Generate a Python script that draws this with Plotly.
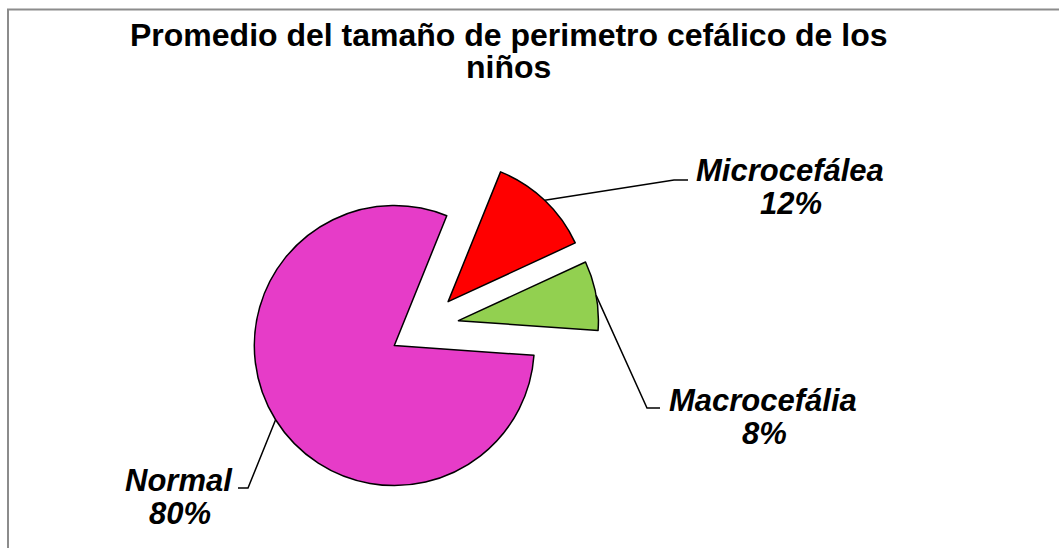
import math
import plotly.graph_objects as go

# Data
categories = ["Microcefálea", "Macrocefália", "Normal"]
percentages = [12, 8, 80]
colors = ["#FF0000", "#92D050", "#E63CC8"]
title_lines = ["Promedio del tamaño de perimetro cefálico de los", "niños"]

# Canvas and pie geometry (pixels)
W, H = 1059, 548
CX, CY = 424, 327          # pie centre
R = 140                    # slice radius
PULL = 0.25                # every slice exploded by a quarter radius
ROTATION = 22              # first slice starts 22 deg clockwise from 12 o'clock

half = R * (1 + PULL)
dom_x = [(CX - half) / W, (CX + half) / W]
dom_y = [1 - (CY + half) / H, 1 - (CY - half) / H]

fig = go.Figure(go.Pie(
    labels=categories,
    values=percentages,
    sort=False,
    direction="clockwise",
    rotation=ROTATION,
    pull=[PULL] * len(percentages),
    marker=dict(colors=colors, line=dict(color="#000000", width=1.5)),
    textinfo="none",
    hoverinfo="label+percent",
    domain=dict(x=dom_x, y=dom_y),
    showlegend=False,
))


def px(x, y):
    return x / W, 1 - y / H


# Arc mid-points of each exploded slice (leader line anchors)
total = sum(percentages)
anchors = []
start = ROTATION
for v in percentages:
    span = v / total * 360
    mid = math.radians(start + span / 2)
    ux, uy = math.sin(mid), -math.cos(mid)
    ox, oy = CX + PULL * R * ux, CY + PULL * R * uy
    anchors.append((ox + R * ux, oy + R * uy))
    start += span

# Leader line elbows and label centres (pixels)
elbows = [[(674, 180), (688, 180)],
          [(647, 408), (660, 408)],
          [(248, 488), (238, 488)]]
label_pos = [(790, 170), (763, 400), (179, 480)]

shapes = []
for (ax, ay), pts in zip(anchors, elbows):
    path_pts = [(ax, ay)] + pts
    d = ""
    for i, (x, y) in enumerate(path_pts):
        fx, fy = px(x, y)
        d += ("M" if i == 0 else "L") + f"{fx},{fy} "
    shapes.append(dict(type="path", xref="paper", yref="paper", path=d.strip(),
                       line=dict(color="#000000", width=1.5)))

# Chart frame
shapes.append(dict(type="rect", xref="paper", yref="paper",
                   x0=8 / W, y0=-0.02, x1=1.02, y1=1 - 9.5 / H,
                   line=dict(color="#8C8C8C", width=2), fillcolor="rgba(0,0,0,0)"))

FONT = "Liberation Sans, Arial, sans-serif"
annotations = []
for i, line in enumerate(title_lines):
    fx, fy = px(509, 35 + 32 * i)
    annotations.append(dict(text=f"<b>{line}</b>", x=fx, y=fy, xref="paper", yref="paper",
                            xanchor="center", yanchor="middle", showarrow=False,
                            font=dict(family=FONT, size=32, color="#000000")))

for name, val, (lx, ly) in zip(categories, percentages, label_pos):
    fx, fy = px(lx, ly)
    annotations.append(dict(text=f"<b><i>{name}</i></b>", x=fx, y=fy, xref="paper", yref="paper",
                            xanchor="center", yanchor="middle", showarrow=False,
                            font=dict(family=FONT, size=31, color="#000000")))
    fx, fy = px(lx + 1, ly + 33)
    annotations.append(dict(text=f"<b><i>{val}%</i></b>", x=fx, y=fy, xref="paper", yref="paper",
                            xanchor="center", yanchor="middle", showarrow=False,
                            font=dict(family=FONT, size=31, color="#000000")))

fig.update_layout(
    width=W, height=H,
    margin=dict(l=0, r=0, t=0, b=0),
    paper_bgcolor="#FFFFFF",
    plot_bgcolor="#FFFFFF",
    shapes=shapes,
    annotations=annotations,
)

fig.write_html("out.html")
